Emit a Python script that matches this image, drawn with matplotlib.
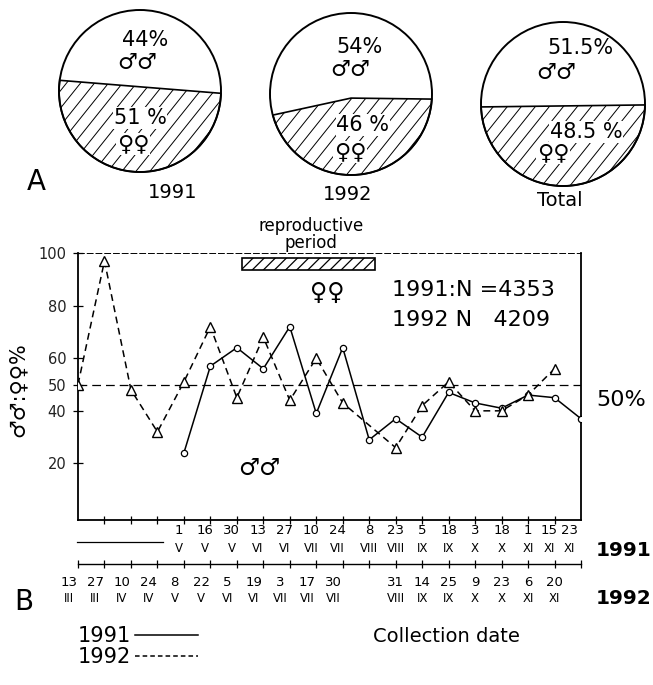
import numpy as np
import matplotlib
matplotlib.use("Agg")
import matplotlib.pyplot as plt
from matplotlib.patches import Circle, Polygon, Rectangle
from matplotlib.lines import Line2D
import matplotlib.transforms as mtrans

plt.rcParams['font.family'] = ['DejaVu Sans']
plt.rcParams['hatch.linewidth'] = 0.9

# ---------------- data ----------------
pie_labels = ['1991', '1992', 'Total']
male_pct = [44, 54, 51.5]
female_pct = [51, 46, 48.5]
male_txt = ['44%', '54%', '51.5%']
female_txt = ['51 %', '46 %', '48.5 %']

idx_1991 = list(range(4, 20))
val_1991 = [24, 57, 64, 56, 72, 39, 64, 29, 37, 30, 47, 43, 41, 46, 45, 37]
idx_1992 = list(range(0, 11)) + list(range(12, 19))
val_1992 = [50, 97, 48, 32, 51, 72, 45, 68, 44, 60, 43, 26, 42, 51, 40, 40, 46, 56]

day_1991 = ['1', '16', '30', '13', '27', '10', '24', '8', '23', '5', '18', '3', '18', '1', '15', '23']
mon_1991 = ['V', 'V', 'V', 'VI', 'VI', 'VII', 'VII', 'VIII', 'VIII', 'IX', 'IX', 'X', 'X', 'XI', 'XI', 'XI']
day_1992 = ['13', '27', '10', '24', '8', '22', '5', '19', '3', '17', '30', '31', '14', '25', '9', '23', '6', '20']
mon_1992 = ['III', 'III', 'IV', 'IV', 'V', 'V', 'VI', 'VI', 'VII', 'VII', 'VII', 'VIII', 'IX', 'IX', 'X', 'X', 'XI', 'XI']

yticks = [20, 40, 50, 60, 80, 100]
repro_start, repro_end = 6.2, 11.2
n_1991 = 4353
n_1992 = 4209

# ---------------- layout (pixels) ----------------
W, H = 653, 685
fig = plt.figure(figsize=(W / 100, H / 100), dpi=100)


def fx(px):
    return px / W


def fy(py):
    return 1 - py / H


L, R = 78, 581
T, B = 253, 520

# overlay axes in pixel coordinates
ov = fig.add_axes([0, 0, 1, 1])
ov.set_xlim(0, W)
ov.set_ylim(H, 0)
ov.axis('off')
ov.patch.set_visible(False)

# ---------------- pies ----------------
pie_cx = [140, 351, 563]
pie_cy = [91, 94, 104]
pie_r = [81, 81, 82]
chord_dy = [(-6, 0.5, 7), (16, -1, 0), (1, 0, -1)]
hatch_step = 14
hatch_slope = 1.25


def frac_below(h, r):
    return (r * r * (np.pi - np.arccos(h / r)) + h * np.sqrt(r * r - h * h)) / (np.pi * r * r)


for i in range(3):
    cx, cy, r = pie_cx[i], pie_cy[i], pie_r[i]
    f = female_pct[i] / (male_pct[i] + female_pct[i])
    lo, hi = -r, r
    for _ in range(80):
        m = 0.5 * (lo + hi)
        if frac_below(m, r) < f:
            lo = m
        else:
            hi = m
    h = 0.5 * (lo + hi)
    yc = cy - h
    dl, dm, dr = chord_dy[i]
    yl, ym, yr = yc + dl, yc + dm, yc + dr
    xl = cx - np.sqrt(r * r - (yl - cy) ** 2)
    xr = cx + np.sqrt(r * r - (yr - cy) ** 2)
    a_r = np.arctan2(yr - cy, xr - cx)
    a_l = np.arctan2(yl - cy, xl - cx)
    if a_l < a_r:
        a_l += 2 * np.pi
    t = np.linspace(a_r, a_l, 120)
    pts = [(xl, yl), (cx, ym), (xr, yr)] + list(zip(cx + r * np.cos(t), cy + r * np.sin(t)))
    poly = Polygon(pts, closed=True, facecolor='none', edgecolor='k', lw=1.2)
    ov.add_patch(poly)
    span = 2 * r + 10
    dx = span / hatch_slope
    for x0 in np.arange(cx - r - dx, cx + r + hatch_step, hatch_step):
        ln, = ov.plot([x0, x0 + dx], [cy + r + 5, cy - r - 5], color='k', lw=0.7)
        ln.set_clip_path(poly)
    ov.add_patch(Circle((cx, cy), r, fill=False, lw=1.4, edgecolor='k'))

pie_text = [
    dict(m=(145, 40), ms=(137, 63), f=(140, 118), fs=(133, 144), lab=(173, 192)),
    dict(m=(360, 47), ms=(350, 70), f=(363, 125), fs=(350, 152), lab=(348, 194)),
    dict(m=(580, 48), ms=(556, 73), f=(586, 132), fs=(553, 153), lab=(560, 200)),
]
for i, p in enumerate(pie_text):
    ov.text(*p['m'], male_txt[i], ha='center', va='center', fontsize=15)
    ov.text(*p['ms'], '♂♂', ha='center', va='center', fontsize=16)
    ov.text(*p['f'], female_txt[i], ha='center', va='center', fontsize=15,
            bbox=dict(facecolor='white', edgecolor='none', pad=0.5))
    ov.text(*p['fs'], '♀♀', ha='center', va='center', fontsize=16,
            bbox=dict(facecolor='white', edgecolor='none', pad=0.5))
    ov.text(*p['lab'], pie_labels[i], ha='center', va='center', fontsize=14)

ov.text(36, 182, 'A', ha='center', va='center', fontsize=20)
ov.text(24, 602, 'B', ha='center', va='center', fontsize=20)

# ---------------- main chart ----------------
ax = fig.add_axes([fx(L), fy(B), fx(R) - fx(L), fy(T) - fy(B)])
ax.patch.set_visible(False)
ax.set_xlim(0, 19)
ax.set_ylim(-1.5, 100)

ax.axhline(50, color='k', lw=0.9, dashes=(7, 4), zorder=1)
ax.plot(idx_1991, val_1991, color='k', lw=1.1, marker='o', ms=4.5,
        mfc='white', mec='k', mew=0.9, zorder=3)
ax.plot(idx_1992, val_1992, color='k', lw=1.1, dashes=(4.5, 3), marker='^',
        ms=7.5, mfc='white', mec='k', mew=1.0, zorder=3)

ax.add_patch(Rectangle((repro_start, 93.5), repro_end - repro_start, 4.5,
                       facecolor='white', edgecolor='k', hatch='///', lw=1.2,
                       clip_on=False, zorder=4))

for s in ['left', 'bottom', 'right']:
    ax.spines[s].set_linewidth(1.3)
ax.spines['top'].set_linewidth(0.7)
ax.spines['top'].set_linestyle((0, (6, 3)))

ax.set_yticks(yticks)
ax.set_yticklabels([str(v) for v in yticks])
ax.tick_params(axis='y', direction='inout', length=7, width=0.9,
               labelsize=10.5, pad=5, labelcolor='#222222')
ax.set_xticks(range(1, 19))
ax.tick_params(axis='x', direction='inout', length=6, width=0.9, labelbottom=False)

# second (1992) date axis
ax2 = fig.add_axes([fx(L), fy(564), fx(R) - fx(L), 0.0001])
ax2.patch.set_visible(False)
ax2.set_xlim(0, 19)
for s in ['left', 'right', 'top']:
    ax2.spines[s].set_visible(False)
ax2.spines['bottom'].set_linewidth(1.0)
ax2.set_yticks([])
ax2.set_xticks(range(0, 20))
ax2.tick_params(axis='x', direction='inout', length=6, width=0.9, labelbottom=False)

# date labels
bt = mtrans.blended_transform_factory(ax.transData, ov.transData)
for k, i in enumerate(idx_1991):
    if i <= 10:
        off = -0.2
    elif i < 18:
        off = 0.0
    elif i == 18:
        off = -0.2
    else:
        off = -0.45
    ov.text(i + off, 530, day_1991[k], transform=bt, ha='center', va='center', fontsize=9.5)
    ov.text(i + off, 548, mon_1991[k], transform=bt, ha='center', va='center', fontsize=8.5)
for k, i in enumerate(idx_1992):
    off = -0.35 if i <= 10 else 0.0
    ov.text(i + off, 583, day_1992[k], transform=bt, ha='center', va='center', fontsize=9.5)
    ov.text(i + off, 599, mon_1992[k], transform=bt, ha='center', va='center', fontsize=8.5)
ov.plot([77, 163], [542, 542], color='k', lw=0.9)

ov.text(651, 550, '1991', ha='right', va='center', fontsize=14.5, fontweight='bold')
ov.text(651, 598, '1992', ha='right', va='center', fontsize=14.5, fontweight='bold')
ov.text(446, 636, 'Collection date', ha='center', va='center', fontsize=14)

# annotations
ov.text(311, 226, 'reproductive', ha='center', va='center', fontsize=12)
ov.text(311, 243, 'period', ha='center', va='center', fontsize=12)
ov.text(327, 293, '♀♀', ha='center', va='center', fontsize=17)
ov.text(259, 468, '♂♂', ha='center', va='center', fontsize=17)
ov.text(392, 290, f'1991:N ={n_1991}', ha='left', va='center', fontsize=16)
ov.text(392, 320, f'1992 N   {n_1992}', ha='left', va='center', fontsize=16)
ov.text(621, 400, '50%', ha='center', va='center', fontsize=16)
ov.text(18, 390, '♂♂:♀♀%', rotation=90, ha='center', va='center', fontsize=15)

# legend
handles = [Line2D([], [], color='k', lw=1.1),
           Line2D([], [], color='k', lw=1.1, dashes=(3, 2))]
fig.legend(handles, ['1991', '1992'], markerfirst=False, frameon=False,
           handlelength=3.0, fontsize=15, loc='upper left',
           bbox_to_anchor=(fx(78), fy(626)), labelspacing=0.05,
           handletextpad=0.2, borderpad=0, borderaxespad=0)

fig.savefig('out.png', dpi=100)
